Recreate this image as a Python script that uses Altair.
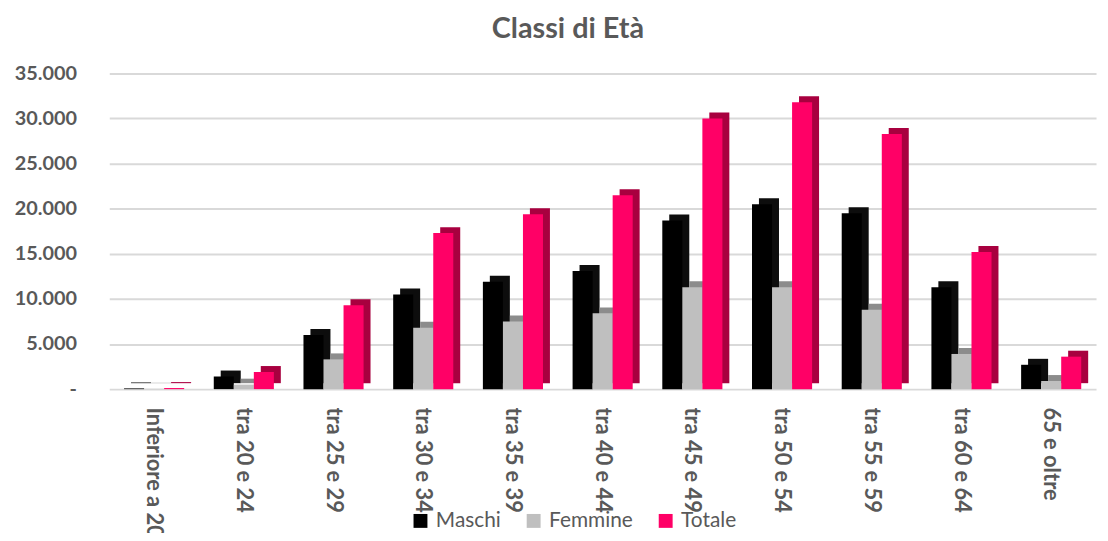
import altair as alt
import pandas as pd

categories = ["Inferiore a 20", "tra 20 e 24", "tra 25 e 29", "tra 30 e 34", "tra 35 e 39",
              "tra 40 e 44", "tra 45 e 49", "tra 50 e 54", "tra 55 e 59", "tra 60 e 64", "65 e oltre"]
series = ["Maschi", "Femmine", "Totale"]
maschi = [80, 1400, 6000, 10500, 11900, 13100, 18700, 20500, 19500, 11300, 2700]
femmine = [40, 500, 3300, 6800, 7500, 8400, 11300, 11300, 8800, 3900, 900]
totale = [120, 1900, 9300, 17300, 19400, 21500, 30000, 31800, 28300, 15200, 3600]

front_colors = ["#000000", "#BFBFBF", "#FF0066"]
side_colors = ["#0D0D0D", "#8C8C8C", "#A8003F"]

rows = []
for s, vals in zip(series, [maschi, femmine, totale]):
    for c, v in zip(categories, vals):
        rows.append({"Classe": c, "Serie": s, "Valore": v})
df = pd.DataFrame(rows)

TXT = "#595959"
FONT = "Lato"
W, H = 994, 318
P_IN, P_OUT = 0.33, 0.165
step = W / (len(categories) - P_IN + 2 * P_OUT)
bw = step * (1 - P_IN)
DEPTH = 7

x_enc = alt.X("Classe:N", sort=categories, title=None,
              scale=alt.Scale(paddingInner=P_IN, paddingOuter=P_OUT),
              axis=alt.Axis(labelAngle=90, labelFont=FONT, labelFontSize=22, labelFontWeight="bold",
                            labelColor=TXT, ticks=False, domain=False, labelPadding=18, grid=False,
                            labelLimit=300))
y_enc = alt.Y("Valore:Q", title=None,
              scale=alt.Scale(domain=[0, 35000], nice=False),
              axis=alt.Axis(values=[0, 5000, 10000, 15000, 20000, 25000, 30000, 35000],
                            labelExpr="datum.value == 0 ? '-\u00a0\u00a0\u00a0' : replace(format(datum.value, ','), ',', '.')",
                            labelFont=FONT, labelFontSize=20, labelFontWeight="bold", labelColor=TXT,
                            ticks=False, domain=False, labelPadding=33,
                            gridColor="#D9D9D9", gridWidth=2))

base = alt.Chart(df)

back = base.mark_bar(yOffset=-6, y2Offset=-6).encode(
    x=x_enc, y=y_enc,
    xOffset=alt.XOffset("Serie:N", sort=series,
                        scale=alt.Scale(paddingInner=0, range=[DEPTH, bw + DEPTH])),
    color=alt.Color("Serie:N", scale=alt.Scale(domain=series, range=side_colors), legend=None),
)

front = base.mark_bar().encode(
    x=x_enc, y=y_enc,
    xOffset=alt.XOffset("Serie:N", sort=series, scale=alt.Scale(paddingInner=0, range=[0, bw])),
    fill=alt.Fill("Serie:N", scale=alt.Scale(domain=series, range=front_colors),
                  legend=alt.Legend(title=None, orient="none", direction="horizontal",
                                    legendX=303, legendY=440, symbolType="square", symbolSize=196,
                                    symbolStrokeWidth=0, labelFont=FONT, labelFontSize=21,
                                    labelColor=TXT, labelOffset=5, columnPadding=22)),
)

chart = alt.layer(back, front).resolve_scale(
    color="independent", fill="independent", xOffset="independent"
).properties(
    width=W, height=H,
    autosize=alt.AutoSizeParams(type="none"),
    padding={"left": 102, "top": 64, "right": 4, "bottom": 143},
    title=alt.TitleParams("Classi di Età", font=FONT, fontSize=29, fontWeight="bold", color=TXT,
                          anchor="middle", dx=-35, offset=20),
).configure_view(stroke=None)

chart.save("out.html", embed_options={"renderer": "svg", "actions": False})
